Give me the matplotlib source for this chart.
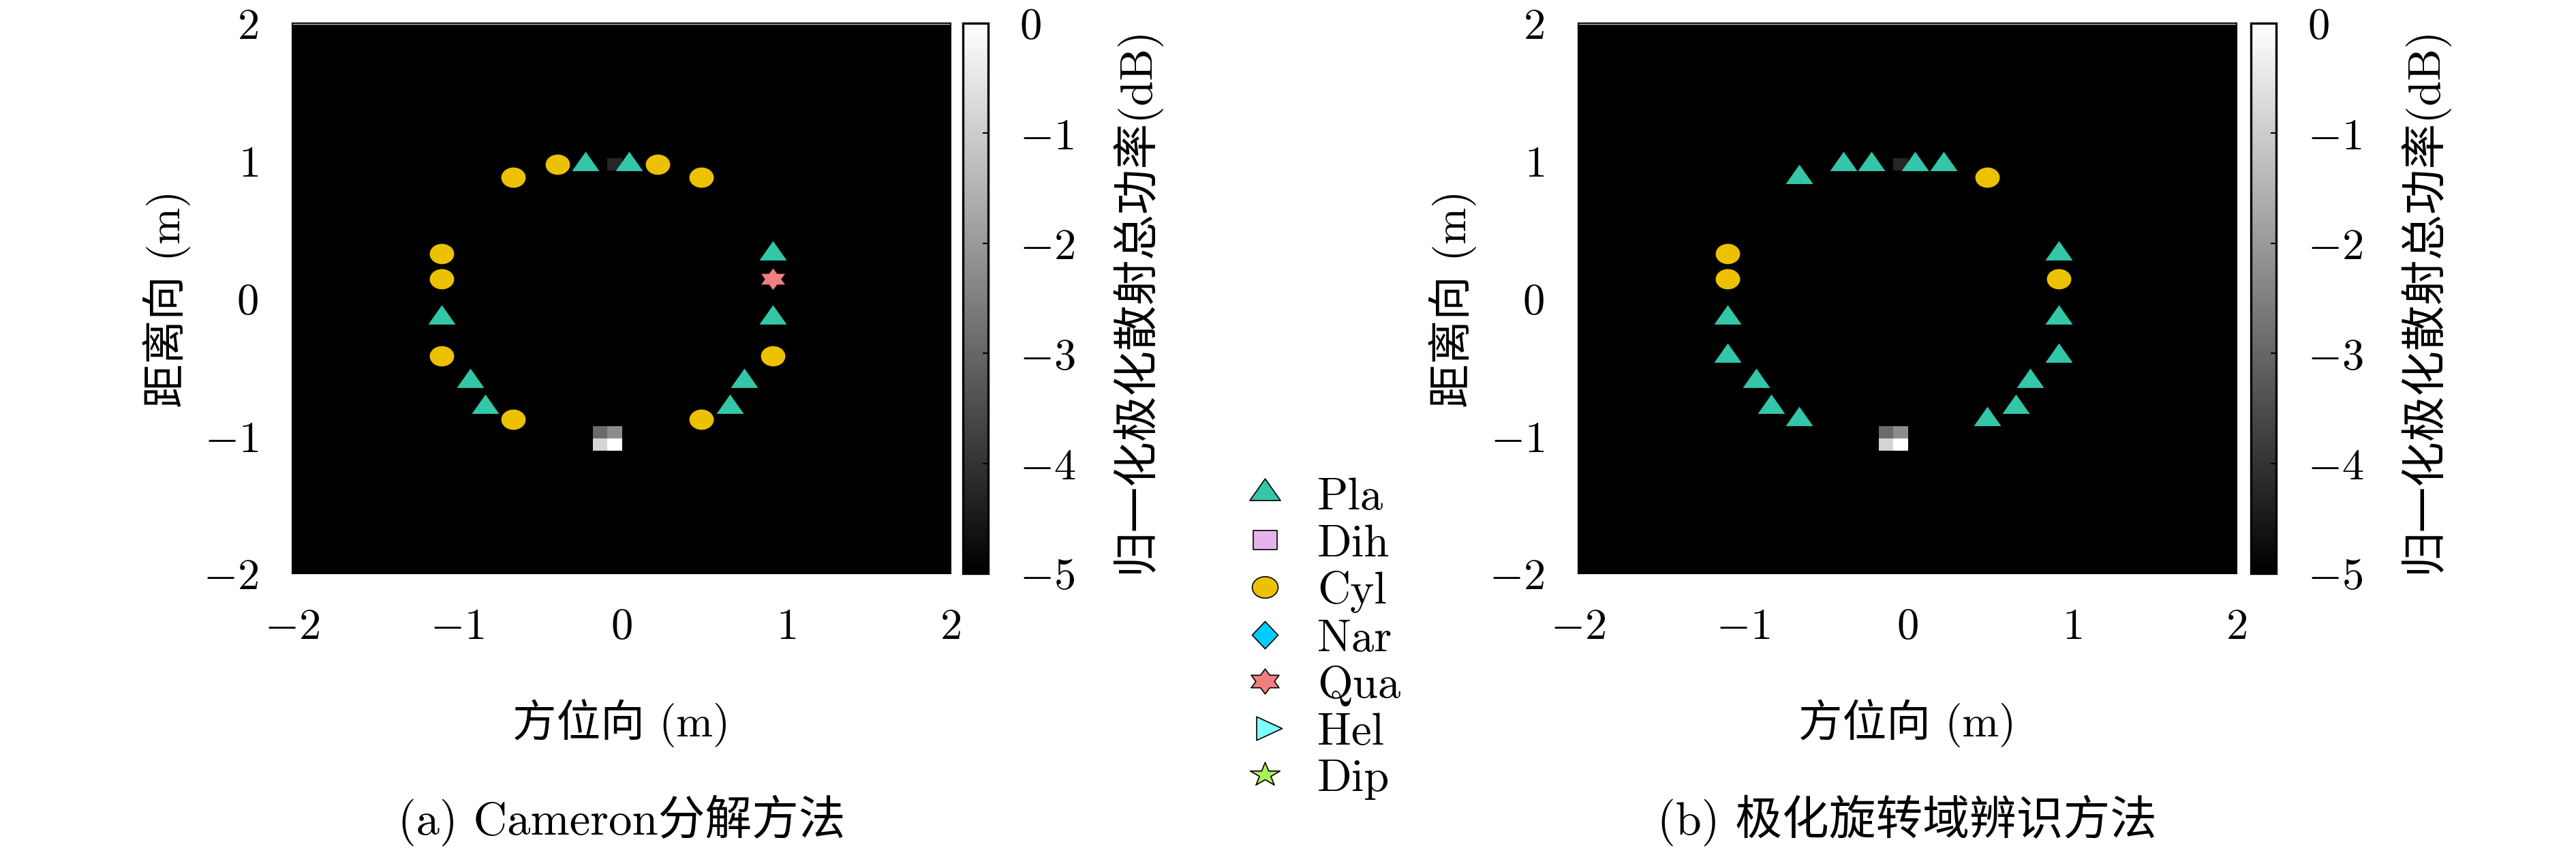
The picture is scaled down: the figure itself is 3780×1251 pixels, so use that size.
import numpy as np
import matplotlib
matplotlib.use('Agg')
import matplotlib.pyplot as plt
from matplotlib.path import Path
from matplotlib.lines import Line2D
from matplotlib.transforms import Affine2D

plt.rcParams['font.family'] = ['cmr10', 'Noto Sans CJK SC']
plt.rcParams['mathtext.fontset'] = 'cm'
plt.rcParams['axes.formatter.use_mathtext'] = True

# scatterer positions (m), shared by both panels
pos_x = [-0.66, -0.39, -0.22, 0.045, 0.22, 0.485,
         -1.095, -1.095, -1.095, -1.095, -0.92, -0.83, -0.66,
         0.92, 0.92, 0.92, 0.92, 0.745, 0.66, 0.485]
pos_y = [0.88, 0.975, 0.975, 0.975, 0.975, 0.88,
         0.325, 0.139, -0.139, -0.417, -0.603, -0.789, -0.882,
         0.325, 0.139, -0.139, -0.417, -0.603, -0.789, -0.882]

# classification result of each scatterer
class_a = ['Cyl', 'Cyl', 'Pla', 'Pla', 'Cyl', 'Cyl',
           'Cyl', 'Cyl', 'Pla', 'Cyl', 'Pla', 'Pla', 'Cyl',
           'Pla', 'Qua', 'Pla', 'Cyl', 'Pla', 'Pla', 'Cyl']
class_b = ['Pla', 'Pla', 'Pla', 'Pla', 'Pla', 'Cyl',
           'Cyl', 'Cyl', 'Pla', 'Pla', 'Pla', 'Pla', 'Pla',
           'Pla', 'Cyl', 'Pla', 'Pla', 'Pla', 'Pla', 'Pla']

# non-floor cells of the power image (cell centre x, y in m, value in dB)
cell_x = [-0.13, -0.04, -0.13, -0.04, -0.04]
cell_y = [-0.974, -0.974, -1.063, -1.063, 0.973]
cell_db = [-2.9, -2.25, -0.85, 0.0, -4.25]
floor_db = -6.0

legend_names = ['Pla', 'Dih', 'Cyl', 'Nar', 'Qua', 'Hel', 'Dip']
cb_ticks = [0, -1, -2, -3, -4, -5]
captions = ['(a) Cameron分解方法', '(b) 极化旋转域辨识方法']


def polygon(angles, radii, squash=0.8):
    a = np.deg2rad(angles)
    v = np.column_stack([radii * np.cos(a), squash * radii * np.sin(a)])
    return Path(np.vstack([v, v[:1]]), closed=True)


def star(n, r_in, squash=0.8):
    k = np.arange(2 * n)
    return polygon(90 + k * 180 / n, np.where(k % 2 == 0, 1.0, r_in), squash)


tri_up = polygon(np.array([90, 210, 330]), np.ones(3), 0.82)
tri_right = polygon(np.array([0, 120, 240]), np.ones(3))
ellipse = Path.unit_circle().transformed(Affine2D().scale(1, 0.83))
square = Path(np.array([[-1, -0.8], [1, -0.8], [1, 0.8], [-1, 0.8], [-1, -0.8]]), closed=True)
diamond = Path(np.array([[0, 1], [0.95, 0], [0, -1], [-0.95, 0], [0, 1]]), closed=True)
hexagram = star(6, 1 / np.sqrt(3), 0.78)
pentagram = star(5, 0.382)

markers = {'Pla': tri_up, 'Dih': square, 'Cyl': ellipse, 'Nar': diamond,
           'Qua': hexagram, 'Hel': tri_right, 'Dip': pentagram}
colors = {'Pla': '#33C6A8', 'Dih': '#E6B4EC', 'Cyl': '#ECC200', 'Nar': '#00CCFF',
          'Qua': '#F08080', 'Hel': '#80FFFF', 'Dip': '#A8F05C'}
plot_size = {'Pla': 9.6, 'Cyl': 8.6, 'Qua': 8.4}
legend_size = {'Pla': 10.8, 'Dih': 8.4, 'Cyl': 9.1, 'Nar': 9.6,
               'Qua': 9.8, 'Hel': 12.0, 'Dip': 10.5}

# image grid
x_edges = 0.005 + 0.09 * np.arange(-24, 24)
y_edges = -0.93 + 0.0885 * np.arange(-13, 34)
power = np.full((len(y_edges) - 1, len(x_edges) - 1), floor_db)
for cx, cy, v in zip(cell_x, cell_y, cell_db):
    power[np.searchsorted(y_edges, cy) - 1, np.searchsorted(x_edges, cx) - 1] = v

fig = plt.figure(figsize=(12.6, 1252 / 300), dpi=300)
W, H = 3780, 1252

panels = [(429, 1413, class_a), (2316, 3303, class_b)]
for (ax_left, cb_left, classes), cap in zip(panels, captions):
    ax = fig.add_axes([ax_left / W, 1 - 842 / H, 966 / W, 807 / H])
    mesh = ax.pcolormesh(x_edges, y_edges, power, cmap='gray', vmin=-5, vmax=0)
    cls = np.array(classes)
    px, py = np.array(pos_x), np.array(pos_y)
    for name in ['Pla', 'Cyl', 'Qua']:
        sel = cls == name
        if sel.any():
            ax.plot(px[sel], py[sel], ls='none', marker=markers[name], ms=plot_size[name],
                    mfc=colors[name], mec='none', zorder=3)
    ax.set_xlim(-2, 2)
    ax.set_ylim(-2, 2)
    ax.set_xticks([-2, -1, 0, 1, 2])
    ax.set_yticks([-2, -1, 0, 1, 2])
    ax.tick_params(direction='in', length=0, pad=12, labelsize=15.5)
    for s in ax.spines.values():
        s.set_linewidth(0.5)
    ax.set_xlabel('方位向 (m)', fontsize=15.5, labelpad=18)
    ax.set_ylabel('距离向 (m)', fontsize=15.5)
    ax.yaxis.set_label_coords(-0.154, 0.5)

    cax = fig.add_axes([cb_left / W, 1 - 842 / H, 37 / W, 807 / H])
    cb = fig.colorbar(mesh, cax=cax, ticks=cb_ticks)
    cb.outline.set_linewidth(0.8)
    cax.tick_params(direction='in', length=2, width=0.5, labelsize=15.5, pad=11)
    cb.set_label('归一化极化散射总功率(dB)', fontsize=16, labelpad=12)

    fig.text((ax_left + 483) / W, 1 - 1203 / H, cap, ha='center', va='center', fontsize=16.5)

handles = [Line2D([], [], ls='none', marker=markers[n], ms=legend_size[n],
                  mfc=colors[n], mec='black', mew=0.4) for n in legend_names]
fig.legend(handles, legend_names, loc='center left', bbox_to_anchor=(1823 / W, 1 - 937 / H),
           frameon=False, fontsize=16, handlelength=1.0, handletextpad=0.65,
           labelspacing=0.13, borderpad=0, borderaxespad=0)

fig.savefig('out.png', dpi=300)
